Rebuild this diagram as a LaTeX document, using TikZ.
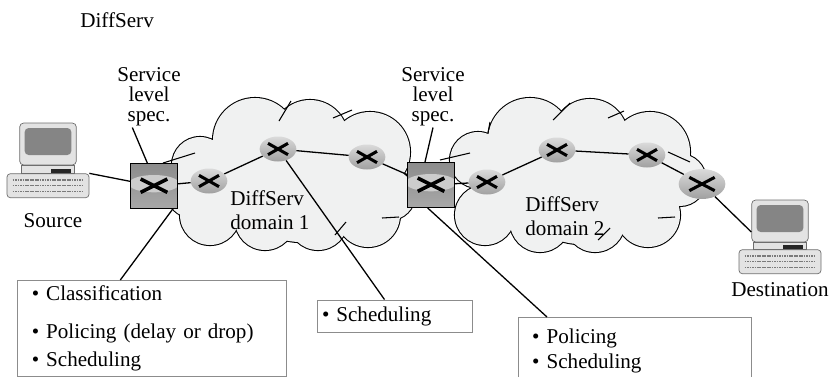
\documentclass[tikz,border=0pt]{standalone}
\usepackage{fontspec}
\setmainfont{Liberation Serif}
\usepackage{tikz}
\usetikzlibrary{positioning,shapes.geometric}

\definecolor{cloudgray}{HTML}{F0F1F1}
\definecolor{routerlight}{HTML}{DADADA}
\definecolor{routerdark}{HTML}{A0A0A0}
\definecolor{switchtop}{HTML}{8C8C8C}
\definecolor{switchbot}{HTML}{A8A8A8}
\definecolor{switchband}{HTML}{CCCCCC}
\definecolor{pcbody}{HTML}{E3E3E3}
\definecolor{pcedge}{HTML}{6E6E6E}
\definecolor{pcscreen}{HTML}{858585}
\definecolor{pckeys}{HTML}{7A7A7A}
\definecolor{boxline}{HTML}{8C8C8C}

\tikzset{
  lab/.style={font=\fontsize{18}{17}\selectfont, inner sep=1pt},
  twoline/.style={font=\fontsize{18}{21}\selectfont, inner sep=1pt, align=left},
  cloudline/.style={draw=black, line width=1.8pt},
  stub/.style={draw=black, line width=0.9pt},
  wire/.style={draw=black, line width=1.1pt},
  callout/.style={draw=black, line width=1.1pt},
  infobox/.style={draw=boxline, line width=0.8pt, align=left, font=\fontsize{18}{24}\selectfont},
  cross/.style 2 args={path picture={
    \draw[line width=2.6pt] ([shift={(-#1,-#2)}]path picture bounding box.center) -- ([shift={(#1,#2)}]path picture bounding box.center);
    \draw[line width=2.6pt] ([shift={(-#1,#2)}]path picture bounding box.center) -- ([shift={(#1,-#2)}]path picture bounding box.center);}},
  router/.style={ellipse, minimum width=11mm, minimum height=7.5mm, inner sep=0pt,
    top color=routerlight, bottom color=routerdark, cross={3mm}{1.7mm}},
  edgesw/.style={rectangle, draw=black, line width=0.8pt, minimum width=14mm, minimum height=13.5mm,
    inner sep=0pt, top color=switchtop, bottom color=switchbot,
    path picture={
      \fill[switchband] ([yshift=0.7mm]path picture bounding box.center) ellipse (7.6mm and 2.6mm);
      \draw[line width=3pt] ([shift={(-4mm,-1.9mm)}]path picture bounding box.center) -- ([shift={(4mm,2.1mm)}]path picture bounding box.center);
      \draw[line width=3pt] ([shift={(-4mm,2.1mm)}]path picture bounding box.center) -- ([shift={(4mm,-1.9mm)}]path picture bounding box.center);}},
  monitor/.style={rectangle, rounded corners=1.2mm, draw=pcedge, line width=0.6pt, fill=pcbody,
    minimum width=17mm, minimum height=12.6mm, inner sep=0pt,
    path picture={\fill[pcscreen] ([shift={(-7mm,-3.3mm)}]path picture bounding box.center) rectangle ([shift={(7mm,4.8mm)}]path picture bounding box.center);}},
  keyboard/.style={rectangle, rounded corners=1mm, draw=pcedge, line width=0.6pt, fill=pcbody,
    minimum width=24.6mm, minimum height=7.2mm, inner sep=0pt,
    path picture={\foreach \dy in {-1.7mm,0mm,1.7mm}
      \draw[pckeys, line width=1.3pt, dash pattern=on 1.5pt off 0.6pt] ([shift={(-10.6mm,\dy)}]path picture bounding box.center) -- ([shift={(10.6mm,\dy)}]path picture bounding box.center);}},
}

% circles making up the two clouds: x/y/radius
\newcommand\cloudone{200/165/28, 255/140/42, 310/138/38, 370/152/40, 390/195/25, 190/195/22, 210/215/30, 265/220/30, 318/220/30, 368/215/32, 300/182/60, 235/185/30}
\newcommand\cloudtwo{478/160/28, 530/140/42, 590/137/38, 650/152/40, 680/180/26, 485/215/30, 540/222/30, 595/222/30, 648/215/32, 580/182/62, 510/185/30}

\begin{document}
\begin{tikzpicture}[x=0.3mm, y=-0.3mm]
  \useasboundingbox (0,0) rectangle (833,377);

  % clouds: thick outlines first, the fill then hides the inner half
  \foreach \cx/\cy/\r in \cloudone {\draw[cloudline] (\cx,\cy) circle[radius=\r*0.3mm];}
  \foreach \cx/\cy/\r in \cloudone {\fill[cloudgray] (\cx,\cy) circle[radius=\r*0.3mm];}
  \foreach \cx/\cy/\r in \cloudtwo {\draw[cloudline] (\cx,\cy) circle[radius=\r*0.3mm];}
  \foreach \cx/\cy/\r in \cloudtwo {\fill[cloudgray] (\cx,\cy) circle[radius=\r*0.3mm];}
  \foreach \xa/\ya/\xb/\yb in {279/121/291/101, 333/118/352/110, 163/163/195/153, 335/235/346/222,
      382/218/399/217, 488/133/490/122, 553/120/570/103, 608/118/624/111, 668/152/690/162,
      440/160/470/153, 658/218/675/217, 598/240/610/228}
    {\draw[stub] (\xa,\ya) -- (\xb,\yb);}

  % texts
  \node[lab, anchor=base west] (title) at (79,27) {DiffServ};
  \node[lab, align=center] (sls1) at (149,97) {Service\\level\\spec.};
  \node[lab, align=center] (sls2) at (433,97) {Service\\level\\spec.};
  \node[twoline, anchor=west] (dom1) at (229,210) {DiffServ\\domain 1};
  \node[twoline, anchor=west] (dom2) at (524,216) {DiffServ\\domain 2};

  % edge switches and routers
  \node[edgesw] (sw1) at (154,186) {};
  \node[edgesw] (sw2) at (431,185) {};
  \node[router] (r1a) at (209,181) {};
  \node[router] (r1b) at (278,149) {};
  \node[router] (r1c) at (367,157) {};
  \node[router] (r2a) at (487,182) {};
  \node[router] (r2b) at (557,150) {};
  \node[router] (r2c) at (647,155) {};
  \node[router, minimum width=14mm, minimum height=9mm, cross={3.8mm}{2mm}] (r2d) at (702,184) {};

  % hosts
  \node[monitor] (src) at (48,144) {};
  \node[keyboard, below=2.4mm of src] (src-kb) {};
  \node[monitor] (dst) at (780,221) {};
  \node[keyboard, below=2.1mm of dst] (dst-kb) {};
  \foreach \pc in {src,dst} {
    \fill[pcbody, draw=pcedge, line width=0.5pt] ([xshift=-8mm]\pc.south) rectangle ([xshift=8mm]\pc-kb.north);
    \fill[black!85] ([shift={(1mm,0.2mm)}]\pc-kb.north) rectangle ([shift={(7mm,1.3mm)}]\pc-kb.north);
  }
  \node[lab, anchor=base] (src-lab) at (53,227) {Source};
  \node[lab, anchor=base] (dst-lab) at (780,296) {Destination};

  % boxes
  \node[infobox, anchor=north west, minimum height=28.8mm, text width=72.1mm, inner xsep=4.3mm] (box1) at (17,280)
    {\textbullet\ Classification\\[8pt]\textbullet\ Policing (delay or drop)\\\textbullet\ Scheduling};
  \node[infobox, minimum height=9.6mm, text width=43.5mm, inner xsep=1.5mm] (sched) at (394.5,316)
    {\textbullet\ Scheduling};
  \node[align=left, font=\fontsize{18}{21}\selectfont, anchor=north west, text width=61.5mm,
    inner xsep=4.2mm, inner ysep=3.6mm] (box3) at (518,317) {\textbullet\ Policing\\\textbullet\ Scheduling};
  \coordinate (pagebot) at (0,377);
  \draw[boxline, line width=0.8pt] (box3.north west |- pagebot) -- (box3.north west) -- (box3.north east) -- (box3.north east |- pagebot);

  % links
  \foreach \a/\b in {sw1/r1a, r1a/r1b, r1b/r1c, r1c/sw2, sw2/r2a, r2a/r2b, r2b/r2c, r2c/r2d}
    \draw[wire] (\a) -- (\b);
  \draw[wire] (src-kb.north east) -- (sw1);
  \draw[wire] (r2d) -- ([yshift=-3.3mm]dst.west);

  % callouts
  \draw[callout] ([xshift=-5mm]sls1.south) -- ([xshift=-2mm]sw1.north);
  \draw[callout] (sls2.south) -- ([xshift=-1.8mm]sw2.north);
  \draw[callout] ([xshift=-1.5mm]sw1.south east) -- ([xshift=-9.5mm]box1.north);
  \draw[callout] (r1b) -- ([xshift=-3mm]sched.north);
  \draw[callout] ([xshift=-1mm]sw2.south) -- ([xshift=8.7mm]box3.north west);
\end{tikzpicture}
\end{document}
